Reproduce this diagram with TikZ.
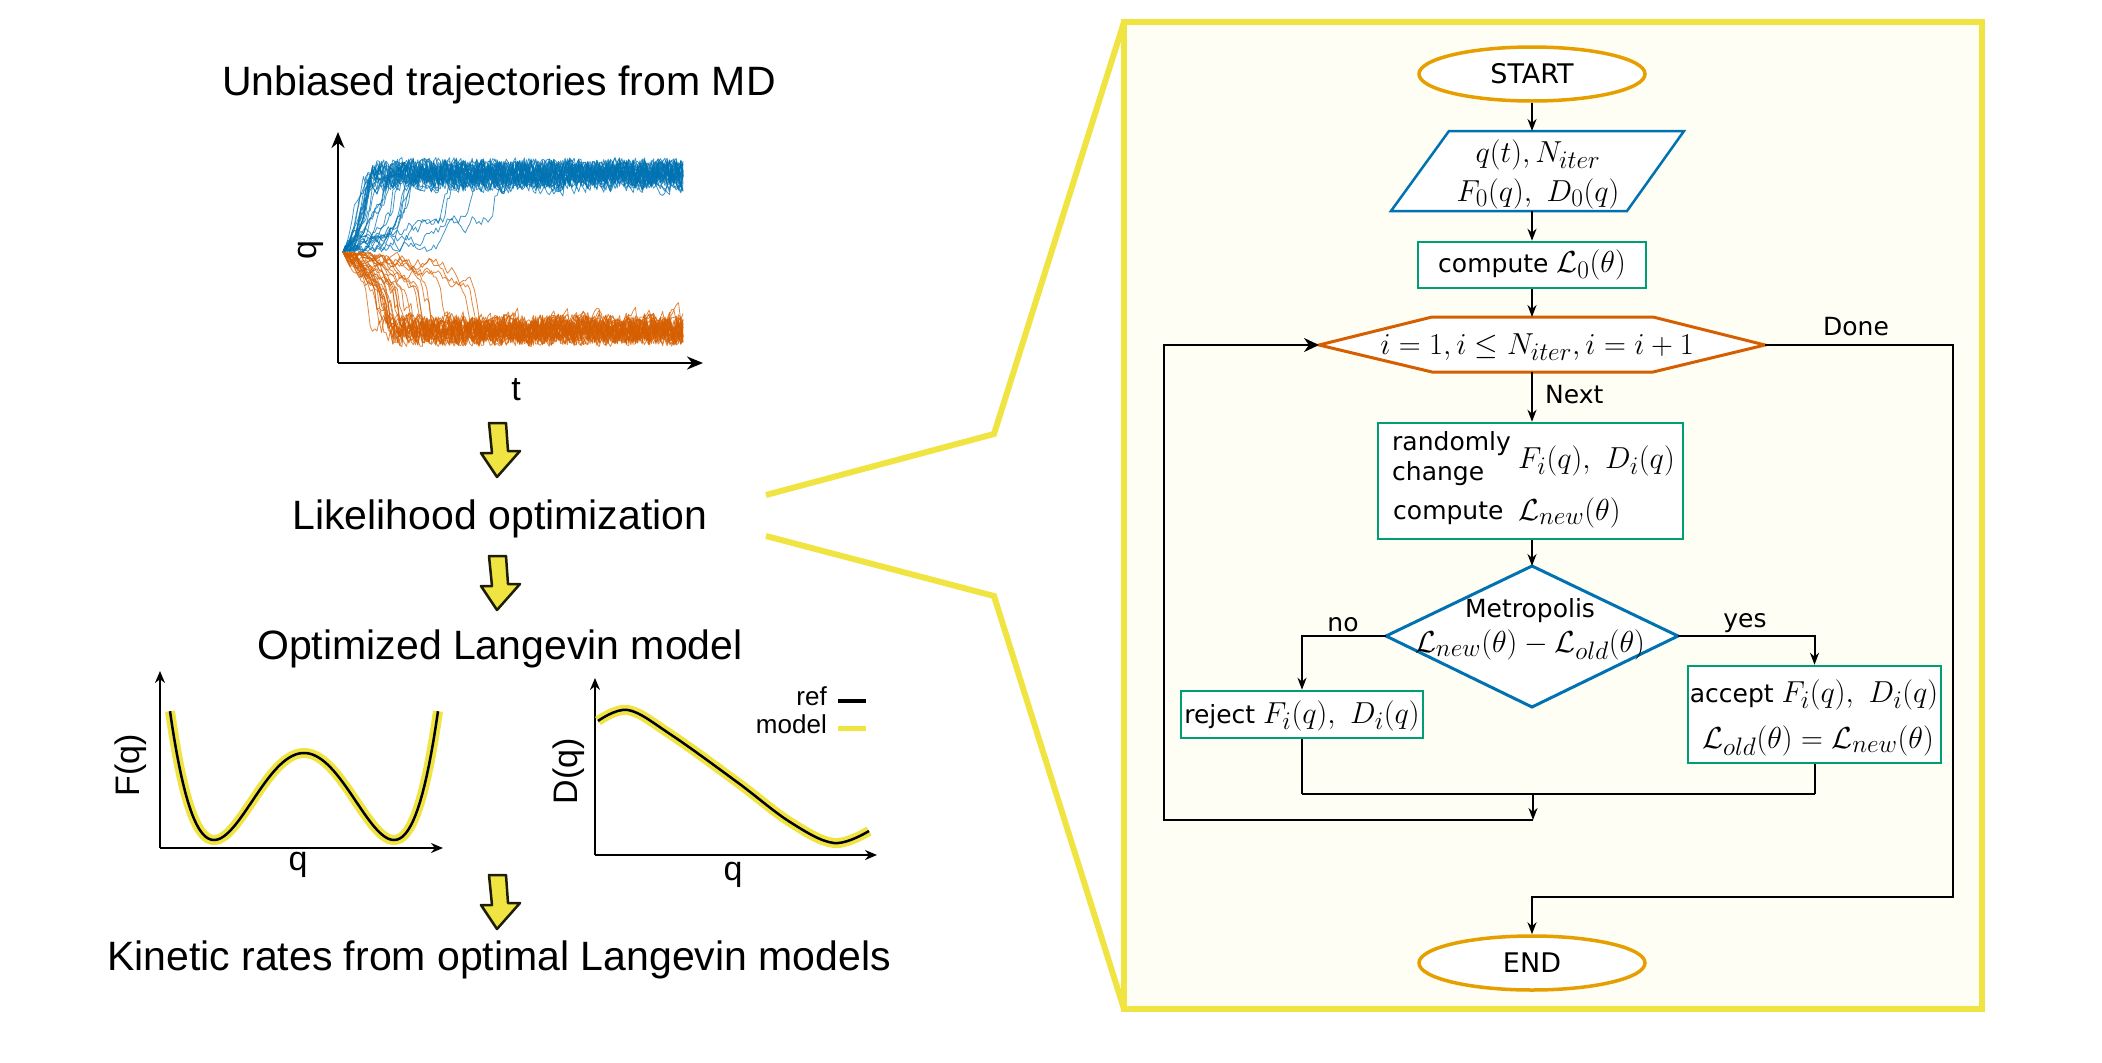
\documentclass[tikz,border=0pt]{standalone}
\usepackage{graphicx}
\usepackage{fontspec}
\setmainfont{Liberation Sans}
\newfontfamily\djv{DejaVu Sans}
\usetikzlibrary{arrows.meta,calc,shapes.geometric}
\definecolor{cbBlue}{HTML}{0072B2}
\definecolor{cbOrange}{HTML}{D55E00}
\definecolor{cbGreen}{HTML}{009E73}
\definecolor{cbGold}{HTML}{E69F00}
\definecolor{cbYellow}{HTML}{F0E442}
\definecolor{ivory}{HTML}{FEFEF5}
\definecolor{arrowedge}{HTML}{1E1E05}
\newcommand{\mth}[1]{\scalebox{1.22}{\fontsize{24.88}{30}\selectfont$#1$}}
\tikzset{
  big/.style={font=\fontsize{41}{49}\selectfont, inner sep=0},
  axlab/.style={font=\fontsize{34}{40}\selectfont, inner sep=0},
  leg/.style={font=\fontsize{26}{30}\selectfont, inner sep=0},
  fc/.style={font=\djv\fontsize{25}{30}\selectfont, inner sep=0},
  term/.style={ellipse, draw=cbGold, line width=3.5pt, fill=white, minimum width=226pt, minimum height=54pt, inner sep=0, font=\djv\fontsize{27}{32}\selectfont},
  gbox/.style={draw=cbGreen, line width=2.5pt, fill=white, inner sep=0},
  conn/.style={line width=2pt, -{Stealth[length=12pt,width=9pt]}},
  connbig/.style={line width=2pt, -{Stealth[length=15pt,width=14pt]}},
  plain/.style={line width=2pt},
  axisln/.style={line width=2.5pt, -{Stealth[length=16pt,width=13pt]}},
  smallaxis/.style={line width=2pt, -{Stealth[length=12pt,width=10pt]}},
  zoomline/.style={draw=cbYellow, line width=6pt},
  barrow/.style={fill=cbYellow, draw=arrowedge, line width=2.5pt, line join=round},
  trajB/.style={cbBlue, line width=0.8pt, opacity=0.75, line join=round},
  trajO/.style={cbOrange, line width=0.8pt, opacity=0.75, line join=round},
  modelc/.style={cbYellow, line width=10pt},
  refc/.style={black, line width=2.5pt},
}
\begin{document}
\begin{tikzpicture}[x=1pt,y=-1pt]
\useasboundingbox (0,0) rectangle (2102,1063);

% ---------- frame and zoom lines ----------
\node[draw=cbYellow, line width=6pt, fill=ivory, minimum width=858pt, minimum height=987pt, inner sep=0, outer sep=0] (frame) at (1553,515.5) {};
\coordinate (z1) at (766,495);
\coordinate (z2) at (994,434);
\coordinate (z3) at (766,536);
\coordinate (z4) at (994,596);
\draw[zoomline] (z1) -- (z2) -- (frame.north west);
\draw[zoomline] (z3) -- (z4) -- (frame.south west);

% ---------- left column texts ----------
\node[big, anchor=base] (t1) at (499,95) {Unbiased trajectories from MD};
\node[big, anchor=base] (t2) at (500,529) {Likelihood optimization};
\node[big, anchor=base] (t3) at (500,659) {Optimized Langevin model};
\node[big, anchor=base] (t4) at (499,970) {Kinetic rates from optimal Langevin models};

% ---------- block arrows ----------
\foreach \dy in {0,133,452}{
  \draw[barrow, shift={(0,\dy)}] (489,423) -- (506,423) -- (508,451) -- (520,451) -- (497,477) -- (481,453) -- (492,453) -- cycle;
}

% ---------- trajectories (random walks in a double well) ----------
\pgfmathsetseed{11}
\foreach \k in {1,...,32}{
  \pgfmathsetmacro{\grw}{ifthenelse(\k>27, 0.03+0.04*rnd, 0.12+0.25*rnd)}
  \gdef\uu{0}\gdef\pts{(343,252)}
  \foreach \n in {1,...,150}{
    \pgfmathsetmacro{\unew}{-abs((\uu)+ifthenelse(abs(\uu)<0.45,\grw,0.3)*(\uu)*(1-(\uu)*(\uu))+ifthenelse(abs(\uu)<0.45,0.08,0.16)*rand)}
    \pgfmathsetmacro{\yy}{252+79*(\unew)}
    \pgfmathsetmacro{\xx}{343+2.267*\n}
    \xdef\uu{\unew}
    \xdef\pts{\pts (\xx,\yy)}
  }
  \draw[trajB] plot coordinates {\pts};
}
\foreach \k in {1,...,32}{
  \pgfmathsetmacro{\grw}{ifthenelse(\k>28, 0.02+0.03*rnd, 0.05+0.09*rnd)}
  \gdef\uu{0}\gdef\pts{(343,252)}
  \foreach \n in {1,...,150}{
    \pgfmathsetmacro{\unew}{abs((\uu)+ifthenelse(abs(\uu)<0.45,\grw,0.3)*(\uu)*(1-(\uu)*(\uu))+ifthenelse(abs(\uu)<0.45,0.07,0.16)*rand)}
    \pgfmathsetmacro{\yy}{252+79*(\unew)}
    \pgfmathsetmacro{\xx}{343+2.267*\n}
    \xdef\uu{\unew}
    \xdef\pts{\pts (\xx,\yy)}
  }
  \draw[trajO] plot coordinates {\pts};
}
\coordinate (o1) at (338,363);
\draw[axisln] (o1) -- (338,132);
\draw[axisln] (o1) -- (703,363);
\node[axlab, rotate=90] (ql) at (311,250) {q};
\node[axlab] (tl) at (516,390) {t};

% ---------- F(q) ----------
\coordinate (o2) at (160,848);
\draw[smallaxis] (o2) -- (160,671);
\draw[smallaxis] (o2) -- (443,848);
\draw[modelc] plot[domain=170:438, samples=120] (\x,{840-87*(((\x-304)/90)*((\x-304)/90)-1)*(((\x-304)/90)*((\x-304)/90)-1)});
\draw[refc] plot[domain=170:438, samples=120] (\x,{840-87*(((\x-304)/90)*((\x-304)/90)-1)*(((\x-304)/90)*((\x-304)/90)-1)});
\node[axlab, rotate=90] (fl) at (131,765) {F(q)};
\node[axlab] (fq) at (298,865) {q};

% ---------- D(q) ----------
\coordinate (o3) at (595,855);
\draw[smallaxis] (o3) -- (595,678);
\draw[smallaxis] (o3) -- (877,855);
\draw[modelc] plot[smooth, tension=0.6] coordinates {(598,721) (628,710) (670,734) (737,782) (790,822) (834,843) (869,831)};
\draw[refc] plot[smooth, tension=0.6] coordinates {(598,721) (628,710) (670,734) (737,782) (790,822) (834,843) (869,831)};
\node[axlab, rotate=90] (dlab) at (569,771) {D(q)};
\node[axlab] (dq) at (733,875) {q};
\node[leg, anchor=base east] (lref) at (827,705) {ref};
\node[leg, anchor=base east] (lmod) at (827,733) {model};
\draw[black, line width=4pt] (838,701) -- (866,701);
\draw[cbYellow, line width=5pt] (838,728) -- (866,728);

% ---------- flowchart ----------
\node[term] (start) at (1532,74) {START};

\draw[cbBlue, line width=2.5pt, fill=white] (1391,211) -- (1627,211) -- (1684,131) -- (1449,131) -- cycle;
\coordinate (inpT) at (1532,131);
\coordinate (inpB) at (1532,211);
\node[fc, anchor=base] (inp1) at (1538,162) {\mth{q(t), N_{iter}}};
\node[fc, anchor=base] (inp2) at (1538,201) {\mth{F_0(q),\ D_0(q)}};

\node[gbox, fc, minimum width=228pt, minimum height=46pt] (c0) at (1532,265) {compute \mth{\mathcal{L}_0(\theta)}};

\draw[cbOrange, line width=3pt, fill=white] (1319,345) -- (1432,317) -- (1653,317) -- (1765,345) -- (1653,372) -- (1432,372) -- cycle;
\coordinate (hexL) at (1319,345);
\coordinate (hexR) at (1765,345);
\coordinate (hexT) at (1532,317);
\coordinate (hexB) at (1532,372);
\node[fc, anchor=base] (hex) at (1537,354) {\mth{i=1, i\leq N_{iter}, i=i+1}};

\node[gbox, minimum width=305pt, minimum height=116pt] (rnd) at (1530.5,481) {};
\node[fc, anchor=base west] (rndA) at (1392,450) {randomly};
\node[fc, anchor=base west] (rndA2) at (1392,480) {change};
\node[fc, anchor=base west] (rndB) at (1518,468) {\mth{F_i(q),\ D_i(q)}};
\node[fc, anchor=base west] (rndC) at (1393,519) {compute};
\node[fc, anchor=base west] (rndD) at (1518,520) {\mth{\mathcal{L}_{new}(\theta)}};

\coordinate (dT) at (1532,566);
\coordinate (dR) at (1678,636);
\coordinate (dB) at (1532,707);
\coordinate (dL) at (1386,636);
\draw[cbBlue, line width=3pt, fill=white, line join=miter] (dT) -- (dR) -- (dB) -- (dL) -- cycle;
\node[fc, anchor=base] (met1) at (1530,617) {Metropolis};
\node[fc, anchor=base] (met2) at (1530,652) {\mth{\mathcal{L}_{new}(\theta) - \mathcal{L}_{old}(\theta)}};

\node[gbox, minimum width=242pt, minimum height=47pt] (rej) at (1302,714.5) {};
\node[fc, anchor=base] (rejt) at (1302,723) {reject \mth{F_i(q),\ D_i(q)}};

\node[gbox, minimum width=253pt, minimum height=97pt] (acc) at (1814.5,714.5) {};
\node[fc, anchor=base] (acc1) at (1814,702) {accept \mth{F_i(q),\ D_i(q)}};
\node[fc, anchor=base] (acc2) at (1818,748) {\mth{\mathcal{L}_{old}(\theta) = \mathcal{L}_{new}(\theta)}};

\node[term] (endn) at (1532,963) {END};

% connectors
\draw[conn] (start) -- (inpT);
\draw[conn] (inpB) -- (inpB |- c0.north);
\draw[conn] (c0.south -| hexT) -- (hexT);
\draw[conn] (hexB) -- (hexB |- rnd.north);
\node[fc, anchor=base west] (next) at (1545,403) {Next};
\draw[conn] (rnd.south -| dT) -- (dT);
\draw[conn] (dL) -| (rej.north);
\node[fc, anchor=base] (nol) at (1343,631) {no};
\draw[conn] (dR) -| (acc.north);
\node[fc, anchor=base] (yesl) at (1745,627) {yes};
\coordinate (mM) at (1533,794);
\coordinate (lp) at (1533,820);
\coordinate (lpL) at (1164,820);
\draw[plain] (rej.south) -- (rej.south |- mM);
\draw[plain] (acc.south) -- (acc.south |- mM);
\draw[line width=2.8pt] (rej.south |- mM) -- (acc.south |- mM);
\draw[conn] (mM) -- (lp);
\draw[connbig] (lp) -- (lpL) |- (hexL);
\coordinate (dn2) at (1953,897);
\draw[conn] (hexR) -| (dn2) -| (endn.north);
\node[fc, anchor=base] (done) at (1856,335) {Done};
\end{tikzpicture}
\end{document}
